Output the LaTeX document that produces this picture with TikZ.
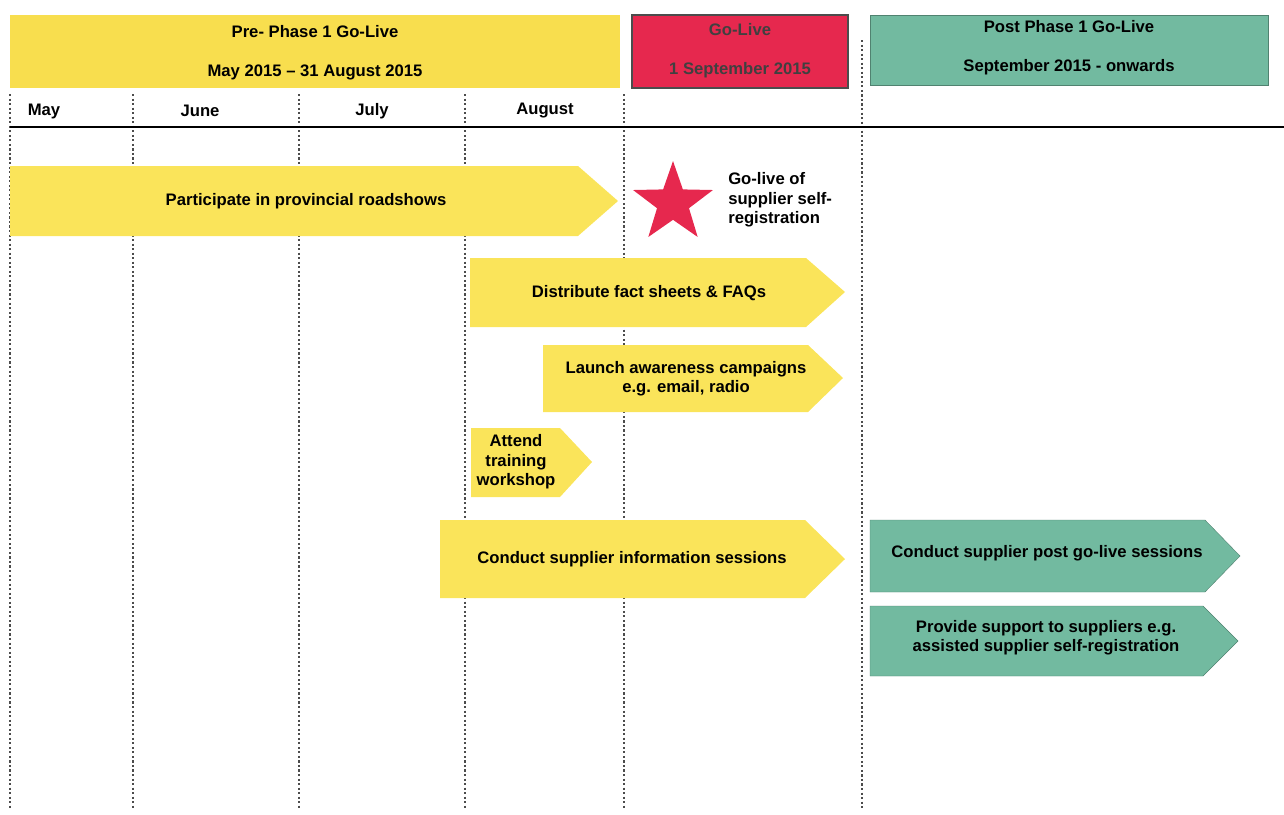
\documentclass[tikz,border=0pt]{standalone}
\usepackage{fontspec}
\setmainfont{Liberation Sans}
\usepackage{xcolor}
\usetikzlibrary{shapes.geometric}
\definecolor{preyellow}{RGB}{248,222,78}
\definecolor{baryellow}{RGB}{250,228,90}
\definecolor{golivered}{RGB}{230,40,78}
\definecolor{postteal}{RGB}{114,186,160}
\tikzset{txt/.style={font=\fontsize{12.5}{14.5}\selectfont\bfseries,align=center,inner sep=0pt},
  yellowbar/.style={fill=baryellow},
  tealbar/.style={fill=postteal,draw=postteal!70!black,line width=0.3pt},
  grid/.style={black!70,line width=0.8pt,dash pattern=on 1.6pt off 1.8pt}}

\begin{document}
\begin{tikzpicture}[x=0.75pt,y=-0.75pt]
        \useasboundingbox (0,0) rectangle (1284,814);
        % month grid
        \foreach \gx in {10,133,299,465,624}
            \draw[grid] (\gx,94) -- (\gx,810);
        \draw[grid] (862,40) -- (862,810);
        \draw[line width=1.6pt] (10,127) -- (1284,127);

        % header boxes
        \fill[preyellow] (10,15) rectangle (620,88);
        \node[txt] (pre1) at (315,32) {Pre- Phase 1 Go-Live};
        \node[txt] (pre2) at (315,72) {May 2015 -- 31 August 2015};
        \draw[fill=golivered,draw=black!70,line width=0.8pt] (632,15) rectangle (848,88);
        \node[txt,text=black!75] (go1) at (740,30) {Go-Live};
        \node[txt,text=black!75] (go2) at (740,70) {1 September 2015};
        \draw[tealbar] (870,15) rectangle (1268,85);
        \node[txt] (post1) at (1069,27) {Post Phase 1 Go-Live};
        \node[txt] (post2) at (1069,67) {September 2015 - onwards};

        \node[txt] (may) at (44,111) {May};
        \node[txt] (june) at (200,111) {June};
        \node[txt] (july) at (372,111) {July};
        \node[txt] (aug) at (545,111) {August};

        % activities
        \fill[yellowbar] (10,166) -- (578,166) -- (618,201) -- (578,236) -- (10,236) -- cycle;
        \node[txt] (roadshow) at (306,201) {Participate in provincial roadshows};
        \node[star,star points=5,star point ratio=2.5,fill=golivered,minimum size=63pt,inner sep=0pt] (star) at (673,203) {};
        \node[txt,align=left,anchor=west] (selfreg) at (728,200) {Go-live of\\supplier self-\\registration};

        \fill[yellowbar] (470,258) -- (806,258) -- (845,292) -- (806,327) -- (470,327) -- cycle;
        \node[txt] (facts) at (649,293) {Distribute fact sheets \& FAQs};
        \fill[yellowbar] (543,345) -- (808,345) -- (843,378) -- (808,412) -- (543,412) -- cycle;
        \node[txt] (aware) at (686,379) {Launch awareness campaigns\\e.g. email, radio};
        \fill[yellowbar] (471,428) -- (560,428) -- (592,462) -- (560,497) -- (471,497) -- cycle;
        \node[txt] (training) at (516,462) {Attend\\training\\workshop};
        \fill[yellowbar] (440,520) -- (805,520) -- (845,559) -- (805,598) -- (440,598) -- cycle;
        \node[txt] (infosess) at (632,559) {Conduct supplier information sessions};

        \draw[tealbar] (870,520) -- (1205,520) -- (1240,556) -- (1205,592) -- (870,592) -- cycle;
        \node[txt] (postsess) at (1047,553) {Conduct supplier post go-live sessions};
        \draw[tealbar] (870,606) -- (1203,606) -- (1238,641) -- (1203,676) -- (870,676) -- cycle;
        \node[txt] (support) at (1046,638) {Provide support to suppliers e.g.\\assisted supplier self-registration};
    \end{tikzpicture}
\end{document}
